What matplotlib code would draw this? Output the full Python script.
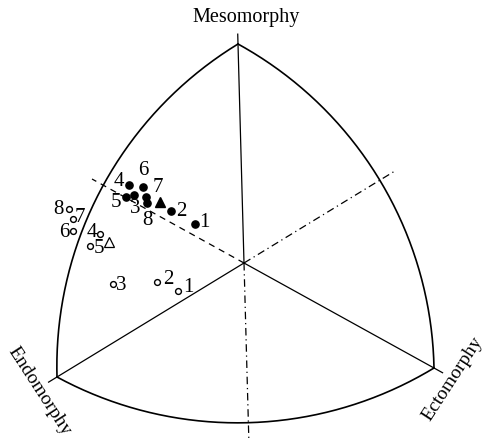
import numpy as np
import matplotlib
matplotlib.use("Agg")
import matplotlib.pyplot as plt

plt.rcParams["font.family"] = ["Liberation Serif", "DejaVu Serif"]

# somatochart coordinates (chart centre at 0,0)
vertex_names = ["Mesomorphy", "Endomorphy", "Ectomorphy"]
vertex_x = [-0.6, -18.7, 19.0]
vertex_y = [21.9, -11.4, -10.5]

# filled group (circles 1-8 and mean triangle)
filled_labels = ["1", "2", "3", "4", "5", "6", "7", "8"]
filled_x = [-4.9, -7.33, -10.97, -11.47, -11.8, -10.07, -9.83, -9.67]
filled_y = [3.9, 5.2, 6.83, 7.8, 6.63, 7.63, 6.65, 5.97]
filled_mean = (-8.35, 6.15)

# open group (circles 1-8 and mean triangle)
open_labels = ["1", "2", "3", "4", "5", "6", "7", "8"]
open_x = [-6.57, -8.67, -13.07, -14.4, -15.4, -17.07, -17.13, -17.5]
open_y = [-2.77, -1.87, -2.1, 2.9, 1.73, 3.2, 4.4, 5.37]
open_mean = (-13.47, 2.13)

# label placement (pixels, right / down)
filled_offsets = [(9, -2), (11, 0), (1, 14), (-10, -3), (-10, 6), (0, -16), (12, -9), (0, 17)]
open_offsets = [(10, -3), (11, -2), (8, 1), (-8, -2), (9, 3), (-9, 1), (7, -2), (-11, 0)]

fig = plt.figure(figsize=(4.89, 4.40), dpi=100)
ax = fig.add_axes([0, 0, 1, 1])
ax.set_xlim(-24.4, 24.5)
ax.set_ylim(-17.7, 26.3)
ax.axis("off")

vx = np.array(vertex_x)
vy = np.array(vertex_y)

# Reuleaux arcs: each side centred on the opposite vertex
for i in range(3):
    a, b, c = (i + 1) % 3, (i + 2) % 3, i
    ang1 = np.arctan2(vy[a] - vy[c], vx[a] - vx[c])
    ang2 = np.arctan2(vy[b] - vy[c], vx[b] - vx[c])
    d = (ang2 - ang1 + np.pi) % (2 * np.pi) - np.pi
    r1 = np.hypot(vx[a] - vx[c], vy[a] - vy[c])
    r2 = np.hypot(vx[b] - vx[c], vy[b] - vy[c])
    t = np.linspace(0, 1, 200)
    ang = ang1 + d * t
    r = r1 + (r2 - r1) * t
    ax.plot(vx[c] + r * np.cos(ang), vy[c] + r * np.sin(ang), color="black", lw=1.2)

# axes from centre to the vertices, with small ticks beyond them
styles = [(0, (6, 3, 1, 3)), (0, (6, 3, 1, 3)), (0, (5, 4))]
for i in range(3):
    ax.plot([0, vx[i] * 1.045], [0, vy[i] * 1.045], color="black", lw=0.9)
    ax.plot([0, -0.8 * vx[i]], [0, -0.8 * vy[i]], color="black", lw=0.9,
            linestyle=styles[i])

# vertex names
ax.text(0.2, 24.05, vertex_names[0], ha="center", va="baseline", fontsize=14.5)
ax.text(-20.5, -12.8, vertex_names[1], ha="center", va="center", fontsize=14,
        rotation=-57, rotation_mode="anchor")
ax.text(20.9, -11.6, vertex_names[2], ha="center", va="center", fontsize=14,
        rotation=57, rotation_mode="anchor")

# points
ax.plot(filled_x, filled_y, "o", color="black", markersize=5.2, linestyle="none")
ax.plot(*filled_mean, "^", color="black", markersize=7)
ax.plot(open_x, open_y, "o", markerfacecolor="white", markeredgecolor="black",
        markersize=4.2, markeredgewidth=1.0, linestyle="none")
ax.plot(*open_mean, "^", markerfacecolor="white", markeredgecolor="black",
        markersize=7, markeredgewidth=0.9)

for lab, x, y, (dx, dy) in zip(filled_labels, filled_x, filled_y, filled_offsets):
    ax.annotate(lab, (x, y), xytext=(dx, -dy), textcoords="offset pixels",
                ha="center", va="center", fontsize=15)
for lab, x, y, (dx, dy) in zip(open_labels, open_x, open_y, open_offsets):
    ax.annotate(lab, (x, y), xytext=(dx, -dy), textcoords="offset pixels",
                ha="center", va="center", fontsize=15)

fig.savefig("out.png", dpi=100)
